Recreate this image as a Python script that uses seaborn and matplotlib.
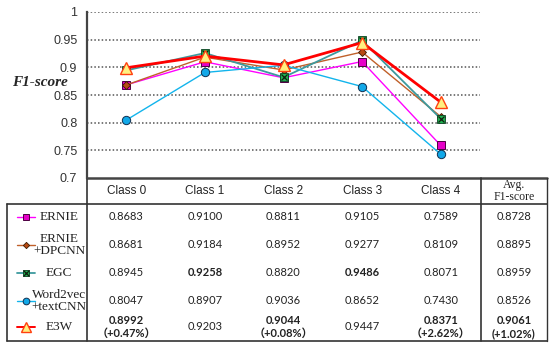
import matplotlib
matplotlib.use("Agg")
import matplotlib.pyplot as plt
import seaborn as sns
import pandas as pd

# --- DATA ---
classes = ["Class 0", "Class 1", "Class 2", "Class 3", "Class 4"]
models = ["ERNIE", "ERNIE+DPCNN", "EGC", "Word2vec+textCNN", "E3W"]
row_labels = ["ERNIE", "ERNIE\n+DPCNN", "EGC", "Word2vec\n+textCNN", "E3W"]

ernie = [0.8683, 0.9100, 0.8811, 0.9105, 0.7589]
ernie_dpcnn = [0.8681, 0.9184, 0.8952, 0.9277, 0.8109]
egc = [0.8945, 0.9258, 0.8820, 0.9486, 0.8071]
w2v_textcnn = [0.8047, 0.8907, 0.9036, 0.8652, 0.7430]
e3w = [0.8992, 0.9203, 0.9044, 0.9447, 0.8371]

avg_f1 = [0.8728, 0.8895, 0.8959, 0.8526, 0.9061]
e3w_gain = ["（+0.47%）", "", "（+0.08%）", "", "（+2.62%）"]
avg_gain = "(+1.02%)"

# best values (bold) as (model, column)  column 5 = Avg
bold_cells = [("EGC", 1), ("EGC", 3), ("E3W", 0), ("E3W", 2), ("E3W", 4), ("E3W", 5)]

yticks = [0.7, 0.75, 0.8, 0.85, 0.9, 0.95, 1.0]
ytick_labels = ["0.7", "0.75", "0.8", "0.85", "0.9", "0.95", "1"]

scores = {"ERNIE": ernie, "ERNIE+DPCNN": ernie_dpcnn, "EGC": egc,
          "Word2vec+textCNN": w2v_textcnn, "E3W": e3w}

df = pd.DataFrame([
    {"Model": m, "Class": c, "x": i, "F1": scores[m][i]}
    for m in models for i, c in enumerate(classes)
])

# --- STYLES ---
styles = {
    "ERNIE": dict(color="#FF00FF", lw=1.0, marker="s", ms=5.5, mfc="#E600C8", mec="#4B0040", mew=0.7),
    "ERNIE+DPCNN": dict(color="#C0602A", lw=1.0, marker="D", ms=4, mfc="#B84A14", mec="#3A1A00", mew=0.6),
    "EGC": dict(color="#3D9A9E", lw=1.3, marker="s", ms=6, mfc="#1FAF50", mec="#0A4020", mew=0.6),
    "Word2vec+textCNN": dict(color="#12B4EC", lw=1.0, marker="o", ms=6, mfc="#12A8E8", mec="#103050", mew=0.7),
    "E3W": dict(color="#FF0000", lw=2.0, marker="^", ms=9, mfc="#FFF080", mec="#FF4010", mew=1.0),
}

sns.set_style("white")
plt.rcParams["font.family"] = ["Liberation Sans", "Noto Sans CJK SC"]

fig = plt.figure(figsize=(5.5, 3.48), dpi=100)

# background axes in pixel coordinates for the table
tab = fig.add_axes([0, 0, 1, 1])
tab.set_xlim(0, 550)
tab.set_ylim(348, 0)
tab.axis("off")

ax = fig.add_axes([87 / 550, 1 - 178 / 348, (480 - 87) / 550, (178 - 12) / 348])
ax.patch.set_alpha(0)

for m in models:
    st = styles[m]
    sub = df[df["Model"] == m]
    sns.lineplot(data=sub, x="x", y="F1", ax=ax, color=st["color"], lw=st["lw"],
                 marker=st["marker"], markersize=st["ms"], markerfacecolor=st["mfc"],
                 markeredgecolor=st["mec"], markeredgewidth=st["mew"], zorder=3 + models.index(m))
    if m == "EGC":
        ax.plot(sub["x"], sub["F1"], ls="none", marker="x", ms=4.5, mec="#102010", mew=0.9,
                zorder=3 + models.index(m))

ax.set_xlim(-0.5, 4.5)
ax.set_ylim(0.7, 1.0)
ax.set_yticks(yticks)
ax.set_yticklabels(ytick_labels, fontsize=9, color="#333333")
ax.set_xticks([])
ax.set_xlabel("")
ax.set_ylabel("")
ax.tick_params(axis="y", length=0, pad=7)
for yv in yticks[1:]:
    ax.axhline(yv, color="#555555", lw=1.1, ls=(0, (1, 1.4)), zorder=1)
for s in ["top", "right", "bottom"]:
    ax.spines[s].set_visible(False)
ax.spines["left"].set_color("#444444")
ax.spines["left"].set_linewidth(1.6)

fig.text(40 / 550, 1 - 82 / 348, "F1-score", family="Liberation Serif", fontweight="bold",
         fontstyle="italic", fontsize=11, ha="center", va="center")

# --- TABLE ---
lc = "#333333"
tab.plot([87, 547], [178, 178], color="#444444", lw=1.8)
tab.plot([7, 547], [204, 204], color=lc, lw=1.2)
tab.plot([7, 547], [341, 341], color=lc, lw=1.2)
tab.plot([7, 7], [204, 341], color=lc, lw=1.2)
tab.plot([87, 87], [178, 341], color=lc, lw=1.2)
tab.plot([481, 481], [178, 341], color=lc, lw=1.2)
tab.plot([547, 547], [178, 341], color=lc, lw=1.0)

col_x = [87 + (i + 0.5) * (480 - 87) / 5 for i in range(5)] + [514]
row_y = [216.5, 245, 273, 300.5, 327]

for i, c in enumerate(classes):
    tab.text(col_x[i], 191.5, c, ha="center", va="center", fontsize=8.5, color="#222222")
tab.text(col_x[5], 191, "Avg.\nF1-score", ha="center", va="center", fontsize=8.5,
         family="Liberation Serif", linespacing=1.0, color="#222222")

for r, m in enumerate(models):
    st = styles[m]
    y = row_y[r]
    tab.plot([17, 35], [y, y], color=st["color"], lw=min(st["lw"], 1.4))
    tab.plot([26], [y], marker=st["marker"], ms=st["ms"] * 0.8, mfc=st["mfc"], mec=st["mec"],
             mew=st["mew"], ls="none")
    if m == "EGC":
        tab.plot([26], [y], marker="x", ms=4, mec="#102010", mew=0.9, ls="none")
    tab.text(59, y, row_labels[r], ha="center", va="center", fontsize=9.5,
             family="Liberation Serif", linespacing=1.0, color="#222222")
    vals = scores[m] + [avg_f1[r]]
    for j, v in enumerate(vals):
        bold = (m, j) in bold_cells
        txt = f"{v:.4f}"
        if m == "E3W":
            extra = e3w_gain[j] if j < 5 else avg_gain
            if extra:
                txt = txt + "\n" + extra
        tab.text(col_x[j], y, txt, ha="center", va="center", fontsize=8,
                 fontweight="bold" if bold else "normal", linespacing=1.25,
                 family=["Lato", "Noto Sans CJK SC"], color="#222222")

fig.savefig("out.png", dpi=100)
